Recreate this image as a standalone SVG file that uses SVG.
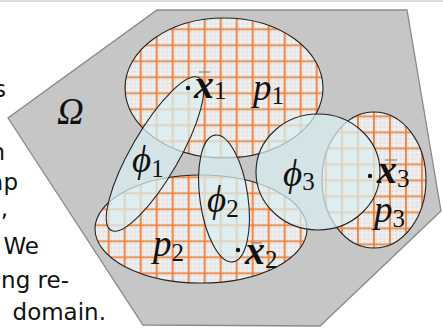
<svg xmlns="http://www.w3.org/2000/svg" xmlns:xlink="http://www.w3.org/1999/xlink" width="443" height="328" viewBox="0 0 443 328">
<style>
.para{font-family:"DejaVu Sans","Liberation Sans",sans-serif;font-size:23px;fill:#111;text-anchor:end}
.m{font-family:"Liberation Serif","DejaVu Serif",serif;font-style:italic;font-size:37px;fill:#111}
.mb{font-family:"Liberation Serif","DejaVu Serif",serif;font-style:italic;font-weight:bold;font-size:40px;fill:#111}
.sub{font-family:"Liberation Serif","DejaVu Serif",serif;font-style:normal;font-weight:normal;font-size:25px}
.pell{stroke:#222;stroke-width:1.1}
.phi{fill:#d9f0f3;fill-opacity:0.72;stroke:#222;stroke-width:1.1}
.bar{stroke:#888;stroke-width:1.2}
</style>
<defs>
<pattern id="g" width="16" height="16" patternUnits="userSpaceOnUse">
<rect width="16" height="16" fill="#e4e4e4"/>
<path d="M0 0.5H16M0.5 0V16M0 4.5H16M4.5 0V16M0 12.5H16M12.5 0V16" stroke="#fff" stroke-width="0.8" fill="none" opacity="0.6"/>
<path d="M0 8H16M8 0V16" stroke="#f47b2b" stroke-width="1.7" fill="none"/>
</pattern>
<pattern id="g1" href="#g" xlink:href="#g" patternTransform="translate(4.7 5.3)"/>
<pattern id="g2" href="#g" xlink:href="#g" patternTransform="translate(4.7 9.3)"/>
<pattern id="g3" href="#g" xlink:href="#g" patternTransform="translate(14 12.4)"/>
</defs>
<rect x="0" y="0" width="443" height="2" fill="#dcdcdc"/>
<g id="text">
<text class="para" x="6" y="97">s</text>
<text class="para" x="5" y="160">n</text>
<text class="para" x="18" y="190">ap</text>
<text class="para" x="8" y="216">,</text>
<text class="para" x="39" y="254">We</text>
<text class="para" x="69" y="288">ng re-</text>
<text class="para" x="106" y="320">domain.</text>
</g>
<g id="omega">
<polygon points="157,10 407,10 441,211 320,326 143,325 8,118" fill="#c6c6c6" stroke="#8a8a8a" stroke-width="1.3"/>
<text class="m" x="57" y="124">Ω</text>
</g>
<g id="p1"><ellipse class="pell" cx="224" cy="88" rx="99" ry="70" fill="url(#g1)"/></g>
<g id="p2"><ellipse class="pell" cx="201" cy="229" rx="106" ry="54" fill="url(#g2)"/></g>
<g id="p3"><ellipse class="pell" cx="374" cy="180" rx="52" ry="68" fill="url(#g3)"/></g>
<g id="phi1"><ellipse class="phi" cx="155" cy="154" rx="88" ry="24" transform="rotate(-60 155 154)"/></g>
<g id="phi2"><ellipse class="phi" cx="224" cy="198.5" rx="64" ry="24" transform="rotate(81.9 224 198.5)"/></g>
<g id="phi3"><ellipse class="phi" cx="318" cy="172" rx="62" ry="58"/></g>
<g id="labels">
<text class="m" x="253" y="100">p<tspan class="sub" dy="4">1</tspan></text>
<text class="m" x="153" y="256">p<tspan class="sub" dy="5">2</tspan></text>
<text class="m" x="374" y="222">p<tspan class="sub" dy="5">3</tspan></text>
<text class="m" x="132" y="172">ϕ<tspan class="sub" dy="5">1</tspan></text>
<text class="m" x="207" y="212">ϕ<tspan class="sub" dy="5">2</tspan></text>
<text class="m" x="283" y="186">ϕ<tspan class="sub" dy="4">3</tspan></text>
</g>
<g id="x1">
<circle cx="188" cy="88" r="2.2" fill="#111"/>
<line class="bar" x1="199" y1="72" x2="210" y2="72"/>
<text class="mb" x="194" y="98">x<tspan class="sub" dy="1">1</tspan></text>
</g>
<g id="x2">
<circle cx="238" cy="250" r="2.2" fill="#111"/>
<line class="bar" x1="251" y1="243" x2="262" y2="243"/>
<text class="mb" x="245" y="264">x<tspan class="sub" dy="4">2</tspan></text>
</g>
<g id="x3">
<circle cx="370" cy="176" r="2.2" fill="#111"/>
<line class="bar" x1="385" y1="160" x2="397" y2="160"/>
<text class="mb" x="377" y="183">x<tspan class="sub" dy="4">3</tspan></text>
</g>
</svg>
